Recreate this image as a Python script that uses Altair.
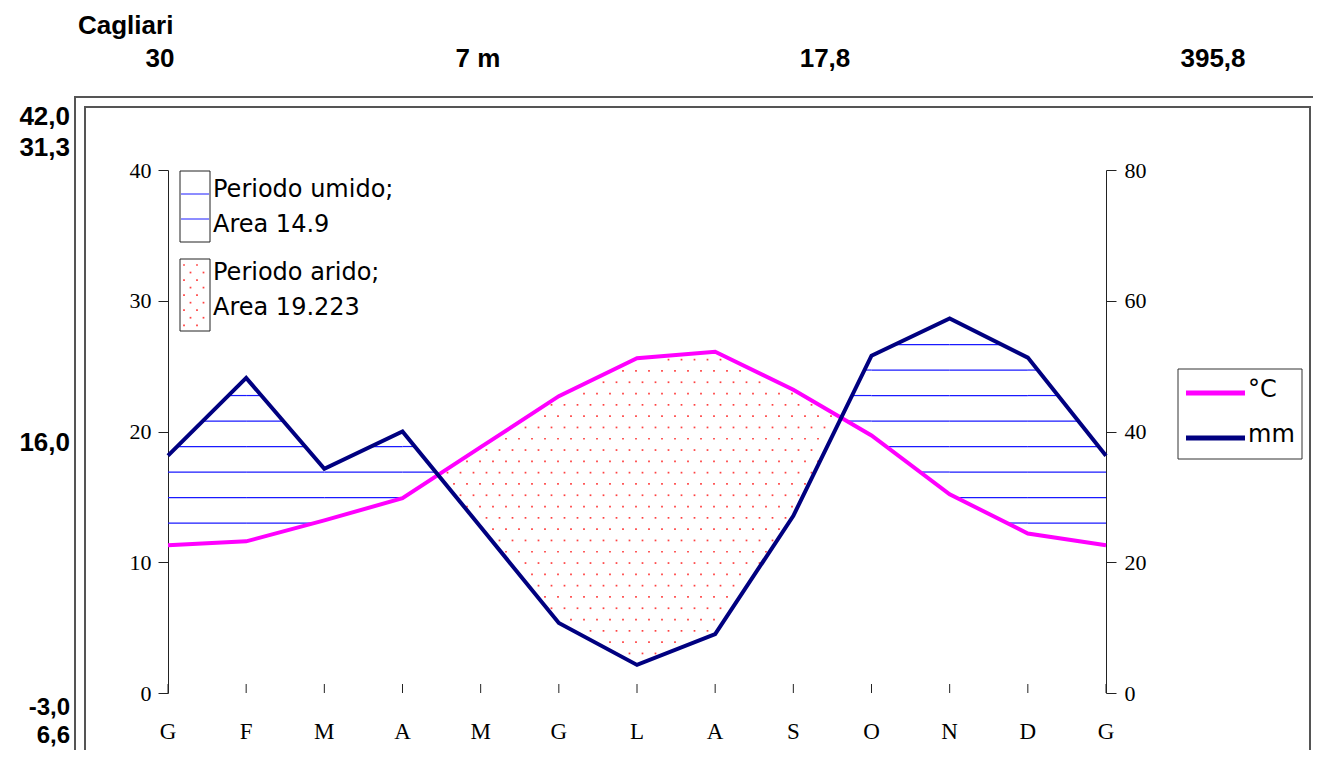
import json
import numpy as np
import pandas as pd
import altair as alt

# ---------------- data ----------------
MONTHS = ["G", "F", "M", "A", "M", "G", "L", "A", "S", "O", "N", "D", "G"]
TEMP = [11.3, 11.6, 13.2, 14.9, 18.8, 22.7, 25.6, 26.1, 23.2, 19.7, 15.2, 12.2, 11.3]
PREC = [36.3, 48.2, 34.3, 40.0, 25.4, 10.7, 4.3, 9.0, 27.1, 51.6, 57.3, 51.3, 36.3]
STATION = "Cagliari"
HEADER = ["30", "7 m", "17,8", "395,8"]
SIDE = ["42,0", "31,3", "16,0", "-3,0", "6,6"]
AREA_TEXT = ["Periodo umido;", "Area 14.9", "Periodo arido;", "Area 19.223"]
SERIES = ["°C", "mm"]
T_TICKS = [0, 10, 20, 30, 40]
P_TICKS = [0, 20, 40, 60, 80]

# ---------------- layout / style ----------------
W, H = 938, 523          # plot area
OX, OY = 168, 170        # page position of plot origin
SVG_W, SVG_H = 1305, 742
T_MAX, P_MAX = 40, 80
HATCH_START, HATCH_STEP = 13.0, 1.95
DOT_DX_PX, DOT_DY_PX = 13.0, 11.3
HEAD_FONT = "Liberation Sans"
LEG_FONT = "DejaVu Sans"
AX_FONT = "Liberation Serif"
MAGENTA, NAVY, BLUE, RED = "#ff00ff", "#000080", "#1a1aff", "#ff2020"


def rx(x):
    return x - OX


def ry(y):
    return y - OY


n = len(MONTHS)
idx = np.arange(n)
t = np.array(TEMP)
h = np.array(PREC) * T_MAX / P_MAX

df = pd.DataFrame({"i": idx, "m": MONTHS, "temp": TEMP, "prec": PREC})

xscale = alt.Scale(domain=[0, n - 1], nice=False, zero=False)
tscale = alt.Scale(domain=[0, T_MAX], nice=False)
pscale = alt.Scale(domain=[0, P_MAX], nice=False)

x_axis = alt.Axis(values=list(range(n)), labels=False, title=None, tickSize=9)


# ---------------- hatch (humid period) ----------------
def pos_interval(a, b):
    """s in [0,1] where a + b*s > 0"""
    if abs(b) < 1e-12:
        return (0.0, 1.0) if a > 0 else None
    r = -a / b
    if b > 0:
        lo, hi = max(0.0, r), 1.0
    else:
        lo, hi = 0.0, min(1.0, r)
    return (lo, hi) if hi > lo else None


levels = np.arange(HATCH_START, T_MAX, HATCH_STEP)
segs = []
for L in levels:
    for i in range(n - 1):
        i1 = pos_interval(L - t[i], -(t[i + 1] - t[i]))
        i2 = pos_interval(h[i] - L, h[i + 1] - h[i])
        if i1 and i2:
            lo, hi = max(i1[0], i2[0]), min(i1[1], i2[1])
            if hi > lo:
                segs.append({"x1": i + lo, "x2": i + hi, "lev": float(L)})
hatch_df = pd.DataFrame(segs)

# ---------------- dots (arid period) ----------------
dx = DOT_DX_PX / (W / (n - 1))
dy = DOT_DY_PX / (H / T_MAX)
dots = []
for r, yv in enumerate(np.arange(dy / 2, T_MAX, dy)):
    off = (r % 2) * dx / 2
    for xv in np.arange(off, n - 1, dx):
        tv = np.interp(xv, idx, t)
        hv = np.interp(xv, idx, h)
        if hv + 0.25 < yv < tv - 0.25:
            dots.append({"x": xv, "y": yv})
dots_df = pd.DataFrame(dots)

one = pd.DataFrame({"a": [0]})
layers = []

# frames
for (x0, y0, x1, y1) in [(75, 97, 1318, 800), (85, 107, 1310, 758)]:
    layers.append(alt.Chart(one).mark_rect(
        fillOpacity=0, stroke="#555555", strokeWidth=2).encode(
        x=alt.value(rx(x0)), x2=alt.value(rx(x1)), y=alt.value(ry(y0)), y2=alt.value(ry(y1))))

# hatch
layers.append(alt.Chart(hatch_df).mark_rule(color=BLUE, strokeWidth=1.2).encode(
    x=alt.X("x1:Q", scale=xscale, axis=None), x2="x2:Q",
    y=alt.Y("lev:Q", scale=tscale, axis=None)))

# dots
layers.append(alt.Chart(dots_df).mark_square(color=RED, size=3, opacity=0.85).encode(
    x=alt.X("x:Q", scale=xscale, axis=None),
    y=alt.Y("y:Q", scale=tscale, axis=None)))

# temperature
layers.append(alt.Chart(df).mark_line(color=MAGENTA, strokeWidth=4).encode(
    x=alt.X("i:Q", scale=xscale, axis=x_axis),
    y=alt.Y("temp:Q", scale=tscale,
            axis=alt.Axis(orient="left", values=T_TICKS, title=None, tickSize=10,
                          labelPadding=7, labelFlush=False, labelFontSize=22, labelFont=AX_FONT))))

# precipitation
layers.append(alt.Chart(df).mark_line(color=NAVY, strokeWidth=4).encode(
    x=alt.X("i:Q", scale=xscale, axis=None),
    y=alt.Y("prec:Q", scale=pscale,
            axis=alt.Axis(orient="right", values=P_TICKS, title=None, tickSize=10,
                          labelPadding=8, labelFlush=False, labelFontSize=22, labelFont=AX_FONT))))

# inner half of month ticks
layers.append(alt.Chart(df).mark_rule(color="#222222", strokeWidth=1).encode(
    x=alt.X("i:Q", scale=xscale, axis=None), y=alt.value(H - 9), y2=alt.value(H)))

# month labels
layers.append(alt.Chart(df).mark_text(font=AX_FONT, fontSize=23, baseline="middle",
                                      color="black").encode(
    x=alt.X("i:Q", scale=xscale, axis=None), y=alt.value(H + 39), text="m:N"))

# area legend boxes
layers.append(alt.Chart(one).mark_rect(
    fill="white", stroke="#222222", strokeWidth=1).encode(
    x=alt.value(rx(180)), x2=alt.value(rx(210)), y=alt.value(ry(171)), y2=alt.value(ry(242))))
for yy in [194, 219]:
    layers.append(alt.Chart(one).mark_rule(color=BLUE, strokeWidth=1).encode(
        x=alt.value(rx(181)), x2=alt.value(rx(209)), y=alt.value(ry(yy))))
layers.append(alt.Chart(one).mark_rect(
    fill="white", stroke="#222222", strokeWidth=1).encode(
    x=alt.value(rx(180)), x2=alt.value(rx(210)), y=alt.value(ry(259)), y2=alt.value(ry(331))))
sw = []
for r, yy in enumerate(np.arange(265, 330, DOT_DY_PX / 1.5)):
    off = (r % 2) * DOT_DX_PX / 2
    for xx in np.arange(184 + off, 208, DOT_DX_PX):
        sw.append({"px": rx(xx), "py": ry(yy)})
layers.append(alt.Chart(pd.DataFrame(sw)).mark_square(color=RED, size=3, opacity=0.85).encode(
    x=alt.X("px:Q", scale=None), y=alt.Y("py:Q", scale=None)))


def txt(label, x, y, size, font, align="left", weight="normal"):
    return alt.Chart(pd.DataFrame({"t": [label]})).mark_text(
        align=align, baseline="middle", font=font, fontSize=size, fontWeight=weight,
        color="black").encode(x=alt.value(rx(x)), y=alt.value(ry(y)), text="t:N")


for label, yy in zip(AREA_TEXT, [190, 225, 273, 308]):
    layers.append(txt(label, 213, yy, 24, LEG_FONT))

# series legend
layers.append(alt.Chart(one).mark_rect(
    fill="white", stroke="#333333", strokeWidth=1).encode(
    x=alt.value(rx(1178)), x2=alt.value(rx(1302)), y=alt.value(ry(369)), y2=alt.value(ry(459))))
for col, yy in [(MAGENTA, 393), (NAVY, 438)]:
    layers.append(alt.Chart(one).mark_rule(color=col, strokeWidth=5).encode(
        x=alt.value(rx(1186)), x2=alt.value(rx(1245)), y=alt.value(ry(yy))))
for label, yy in zip(SERIES, [390, 435]):
    layers.append(txt(label, 1248, yy, 24, LEG_FONT))

# header / side texts
layers.append(txt(STATION, 78, 26, 26, HEAD_FONT, "left", "bold"))
for label, xx in zip(HEADER, [160, 478, 825, 1213]):
    layers.append(txt(label, xx, 59, 26, HEAD_FONT, "center", "bold"))
for label, yy, sz in zip(SIDE, [117, 148, 443, 708, 736], [26, 26, 26, 24, 24]):
    layers.append(txt(label, 70, yy, sz, HEAD_FONT, "right", "bold"))

chart = alt.layer(*layers).resolve_scale(y="independent").properties(
    width=W, height=H,
    padding={"left": OX - 8, "top": OY - 8, "right": SVG_W - (OX - 8) - W,
             "bottom": SVG_H - (OY - 8) - H},
    autosize=alt.AutoSizeParams(type="none"),
).configure_view(stroke=None).configure_axis(
    grid=False, domainColor="#222222", tickColor="#222222", labelColor="black",
    domainWidth=1, tickWidth=1,
)

chart.save("out.html", embed_options={"renderer": "svg", "actions": False})
